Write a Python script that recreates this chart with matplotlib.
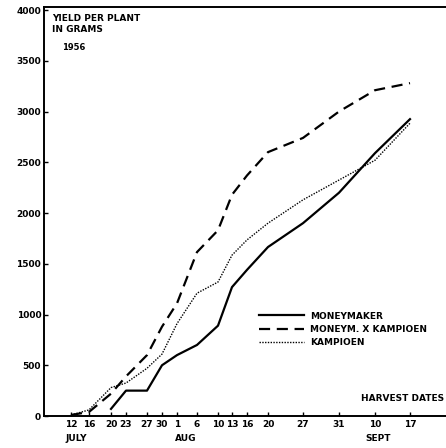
import numpy as np
from matplotlib import pyplot as plt

# harvest dates (tick labels) and their positions along the x axis
day_labels = ['12', '16', '20', '23', '27', '30', '1', '6', '10', '13', '16', '20', '27', '31', '10', '17']
x_pos = [27, 45, 67, 82, 103, 118, 133, 153, 174, 188, 203, 224, 259, 295, 331, 366]
months = ['JULY', 'AUG', 'SEPT']
month_pos = [32, 142, 334]

# cumulative yield per plant (g)
moneymaker = [np.nan, np.nan, 70, 250, 250, 500, 600, 700, 890, 1270, 1440, 1665, 1900, 2200, 2590, 2925]
cross = [10, 40, 220, 390, 600, 880, 1110, 1615, 1830, 2180, 2370, 2600, 2740, 3000, 3210, 3280]
kampioen = [10, 60, 280, 325, 470, 610, 910, 1210, 1320, 1585, 1735, 1900, 2130, 2325, 2520, 2885]

fig = plt.figure(figsize=(4.46, 4.48), dpi=100)
ax = fig.add_axes([44/446, 32/448, 402/446, 409/448])

ax.plot(x_pos, moneymaker, color='black', lw=1.6, label='MONEYMAKER')
ax.plot(x_pos, cross, color='black', lw=1.6, dashes=(5, 3), label='MONEYM. X KAMPIOEN')
ax.plot(x_pos, kampioen, color='black', lw=1.0, ls=(0, (1, 1)), label='KAMPIOEN')

ax.set_xlim(0, 402)
ax.set_ylim(0, 4030)
ax.set_yticks(np.arange(0, 4001, 500))
ax.set_yticklabels(['0', '500', '1000', '1500', '2000', '2500', '3000', '3500', '4000'],
                   fontsize=6.5, fontweight='bold')
ax.set_xticks(x_pos)
ax.set_xticklabels(day_labels, fontsize=6.5, fontweight='bold')
ax.tick_params(axis='both', direction='in', length=3, width=1, pad=2)
ax.tick_params(axis='x', pad=3)

for m, p in zip(months, month_pos):
    ax.text(p, -225, m, ha='center', va='center', fontsize=6.5, fontweight='bold')

for s in ['left', 'bottom', 'top']:
    ax.spines[s].set_linewidth(1.4)
ax.spines['right'].set_visible(False)

ax.text(8, 3960, 'YIELD PER PLANT\nIN GRAMS', ha='left', va='top', fontsize=6.5,
        fontweight='bold', linespacing=1.3)
ax.text(18, 3680, '1956', ha='left', va='top', fontsize=6, fontweight='bold')
ax.text(400, 170, 'HARVEST DATES', ha='right', va='center', fontsize=6.5, fontweight='bold')

leg = ax.legend(loc='upper left', bbox_to_anchor=(0.515, 0.275), frameon=False,
                handlelength=5, handletextpad=0.6, labelspacing=0.45,
                prop={'size': 6.5, 'weight': 'bold'})

fig.savefig('out.png', dpi=100)
